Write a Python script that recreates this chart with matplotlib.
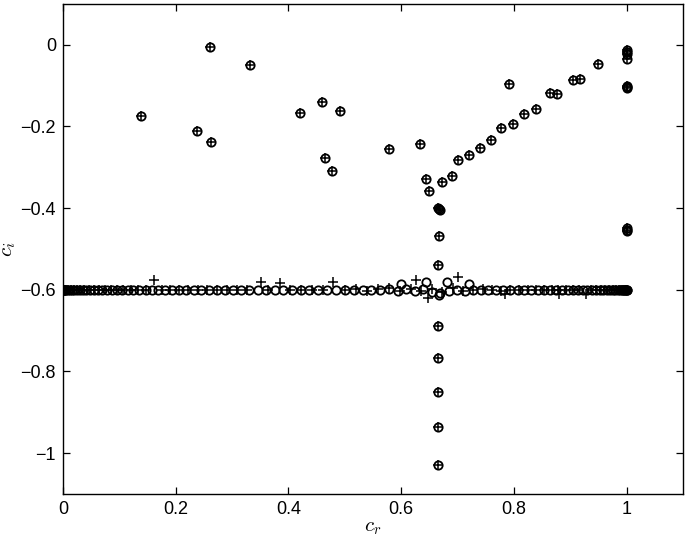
import matplotlib
matplotlib.use("Agg")
import matplotlib.pyplot as plt
from matplotlib.ticker import FuncFormatter

plt.rcParams['font.family'] = ['Liberation Sans', 'DejaVu Sans']
plt.rcParams['mathtext.fontset'] = 'cm'

# Discrete eigenvalues (shared by both resolutions)
disc_cr = [0.139, 0.261, 0.331, 0.237, 0.263, 0.420, 0.460, 0.491, 0.465, 0.478,
           0.579, 0.634, 0.644, 0.649, 0.666, 0.667, 0.668, 0.667, 0.673, 0.691,
           0.700, 0.721, 0.740, 0.760, 0.777, 0.791, 0.798, 0.817, 0.839, 0.864,
           0.876, 0.905, 0.917, 0.949, 1.000, 1.000, 1.000, 1.000, 1.000, 1.001,
           1.000, 1.000, 1.000, 1.000, 0.666, 0.666, 0.666, 0.666, 0.666, 0.666]
disc_ci = [-0.174, -0.005, -0.050, -0.211, -0.238, -0.166, -0.140, -0.161, -0.276, -0.310,
           -0.256, -0.244, -0.328, -0.358, -0.399, -0.402, -0.405, -0.469, -0.337, -0.322,
           -0.281, -0.270, -0.252, -0.233, -0.203, -0.097, -0.194, -0.169, -0.158, -0.119,
           -0.120, -0.087, -0.084, -0.048, -0.013, -0.018, -0.023, -0.035, -0.100, -0.103,
           -0.106, -0.449, -0.453, -0.457, -0.538, -0.688, -0.767, -0.851, -0.937, -1.030]

# Continuous spectrum, resolution 1 (circles)
cont_o_cr = [0.0, 0.0002, 0.001, 0.0022, 0.0039, 0.0062, 0.0089, 0.012, 0.0157, 0.0199,
             0.0245, 0.0296, 0.0351, 0.0411, 0.0476, 0.0545, 0.0619, 0.0696, 0.0778, 0.0865,
             0.0955, 0.1049, 0.1147, 0.1249, 0.1355, 0.1465, 0.1577, 0.1693, 0.1813, 0.1936,
             0.2061, 0.2190, 0.2321, 0.2455, 0.2591, 0.2730, 0.2871, 0.3014, 0.3159, 0.3306,
             0.3455, 0.3605, 0.3757, 0.3909, 0.4063, 0.4218, 0.4373, 0.4529, 0.4686, 0.4843,
             0.5000, 0.5157, 0.5314, 0.5471, 0.5627, 0.5782, 0.5937, 0.6000, 0.6091, 0.6243,
             0.6395, 0.6440, 0.6545, 0.6670, 0.6694, 0.6810, 0.6841, 0.6986, 0.7129, 0.7200,
             0.7270, 0.7409, 0.7545, 0.7679, 0.7810, 0.7939, 0.8064, 0.8187, 0.8307, 0.8423,
             0.8535, 0.8645, 0.8751, 0.8853, 0.8951, 0.9045, 0.9135, 0.9222, 0.9304, 0.9381,
             0.9455, 0.9524, 0.9589, 0.9649, 0.9704, 0.9755, 0.9801, 0.9843, 0.9880, 0.9911,
             0.9938, 0.9961, 0.9978, 0.9990, 0.9998, 1.0]
cont_o_ci = [-0.600] * 54 + [-0.600, -0.598, -0.602, -0.585, -0.597, -0.604,
                             -0.598, -0.580, -0.606, -0.612, -0.608, -0.580, -0.603, -0.601, -0.602, -0.586] \
            + [-0.600] * 36

# Continuous spectrum, resolution 2 (pluses)
cont_p_cr = [0.0, 0.0004, 0.0015, 0.0035, 0.0062, 0.0096, 0.0138, 0.0188, 0.0245, 0.0309,
             0.0381, 0.0459, 0.0545, 0.0638, 0.0737, 0.0843, 0.0955, 0.1073, 0.1198, 0.1328,
             0.1464, 0.1606, 0.1753, 0.1904, 0.2061, 0.2222, 0.2388, 0.2557, 0.2730, 0.2907,
             0.3087, 0.3269, 0.3520, 0.3643, 0.3850, 0.4025, 0.4218, 0.4412, 0.4608, 0.4790,
             0.5000, 0.5196, 0.5392, 0.5588, 0.5782, 0.5975, 0.6167, 0.6260, 0.6357, 0.6470,
             0.6545, 0.6731, 0.6913, 0.7000, 0.7093, 0.7270, 0.7443, 0.7612, 0.7778, 0.7850,
             0.7939, 0.8096, 0.8247, 0.8394, 0.8536, 0.8672, 0.8790, 0.8802, 0.8927, 0.9045,
             0.9157, 0.9270, 0.9362, 0.9455, 0.9541, 0.9619, 0.9691, 0.9755, 0.9812, 0.9862,
             0.9904, 0.9938, 0.9965, 0.9985, 0.9996, 1.0]
cont_p_ci = [-0.600] * 21 + [-0.575] + [-0.600] * 10 + [-0.582, -0.600, -0.583, -0.600,
             -0.600, -0.600, -0.600, -0.580, -0.600, -0.598, -0.603, -0.597, -0.595, -0.603,
             -0.598, -0.577, -0.602, -0.620, -0.598, -0.605, -0.596, -0.568, -0.603, -0.600,
             -0.597, -0.600, -0.602, -0.611, -0.600, -0.600, -0.600, -0.600, -0.600, -0.600,
             -0.600, -0.611, -0.600, -0.600, -0.600, -0.611, -0.600, -0.600, -0.600, -0.600,
             -0.600, -0.600, -0.600, -0.600, -0.600, -0.600, -0.600, -0.600, -0.600, -0.600]

xticks = [0, 0.2, 0.4, 0.6, 0.8, 1.0]
yticks = [-1.0, -0.8, -0.6, -0.4, -0.2, 0.0]

fig = plt.figure(figsize=(6.93, 5.38), dpi=100)
ax = fig.add_axes([0.0909, 0.0818, 0.8947, 0.9108])

ax.plot(disc_cr + cont_o_cr, disc_ci + cont_o_ci, linestyle='none', marker='o',
        ms=6, mfc='none', mec='k', mew=1.3)
ax.plot(disc_cr + cont_p_cr, disc_ci + cont_p_ci, linestyle='none', marker='+',
        ms=7, mec='k', mew=1.1)

ax.set_xlim(0, 1.1)
ax.set_ylim(-1.1, 0.1)
ax.set_xticks(xticks)
ax.set_yticks(yticks)

def fmt(v, pos):
    s = ('%g' % round(v, 6))
    if s == '-0':
        s = '0'
    return s.replace('-', '\u2212')

ax.xaxis.set_major_formatter(FuncFormatter(fmt))
ax.yaxis.set_major_formatter(FuncFormatter(fmt))
ax.tick_params(direction='in', top=True, right=True, length=5, width=0.9,
               labelsize=13, pad=5)
for s in ax.spines.values():
    s.set_linewidth(1.0)

ax.set_xlabel(r'$c_r$', fontsize=15, labelpad=0)
ax.set_ylabel(r'$c_i$', fontsize=15, labelpad=2)

fig.savefig('out.png', dpi=100)
